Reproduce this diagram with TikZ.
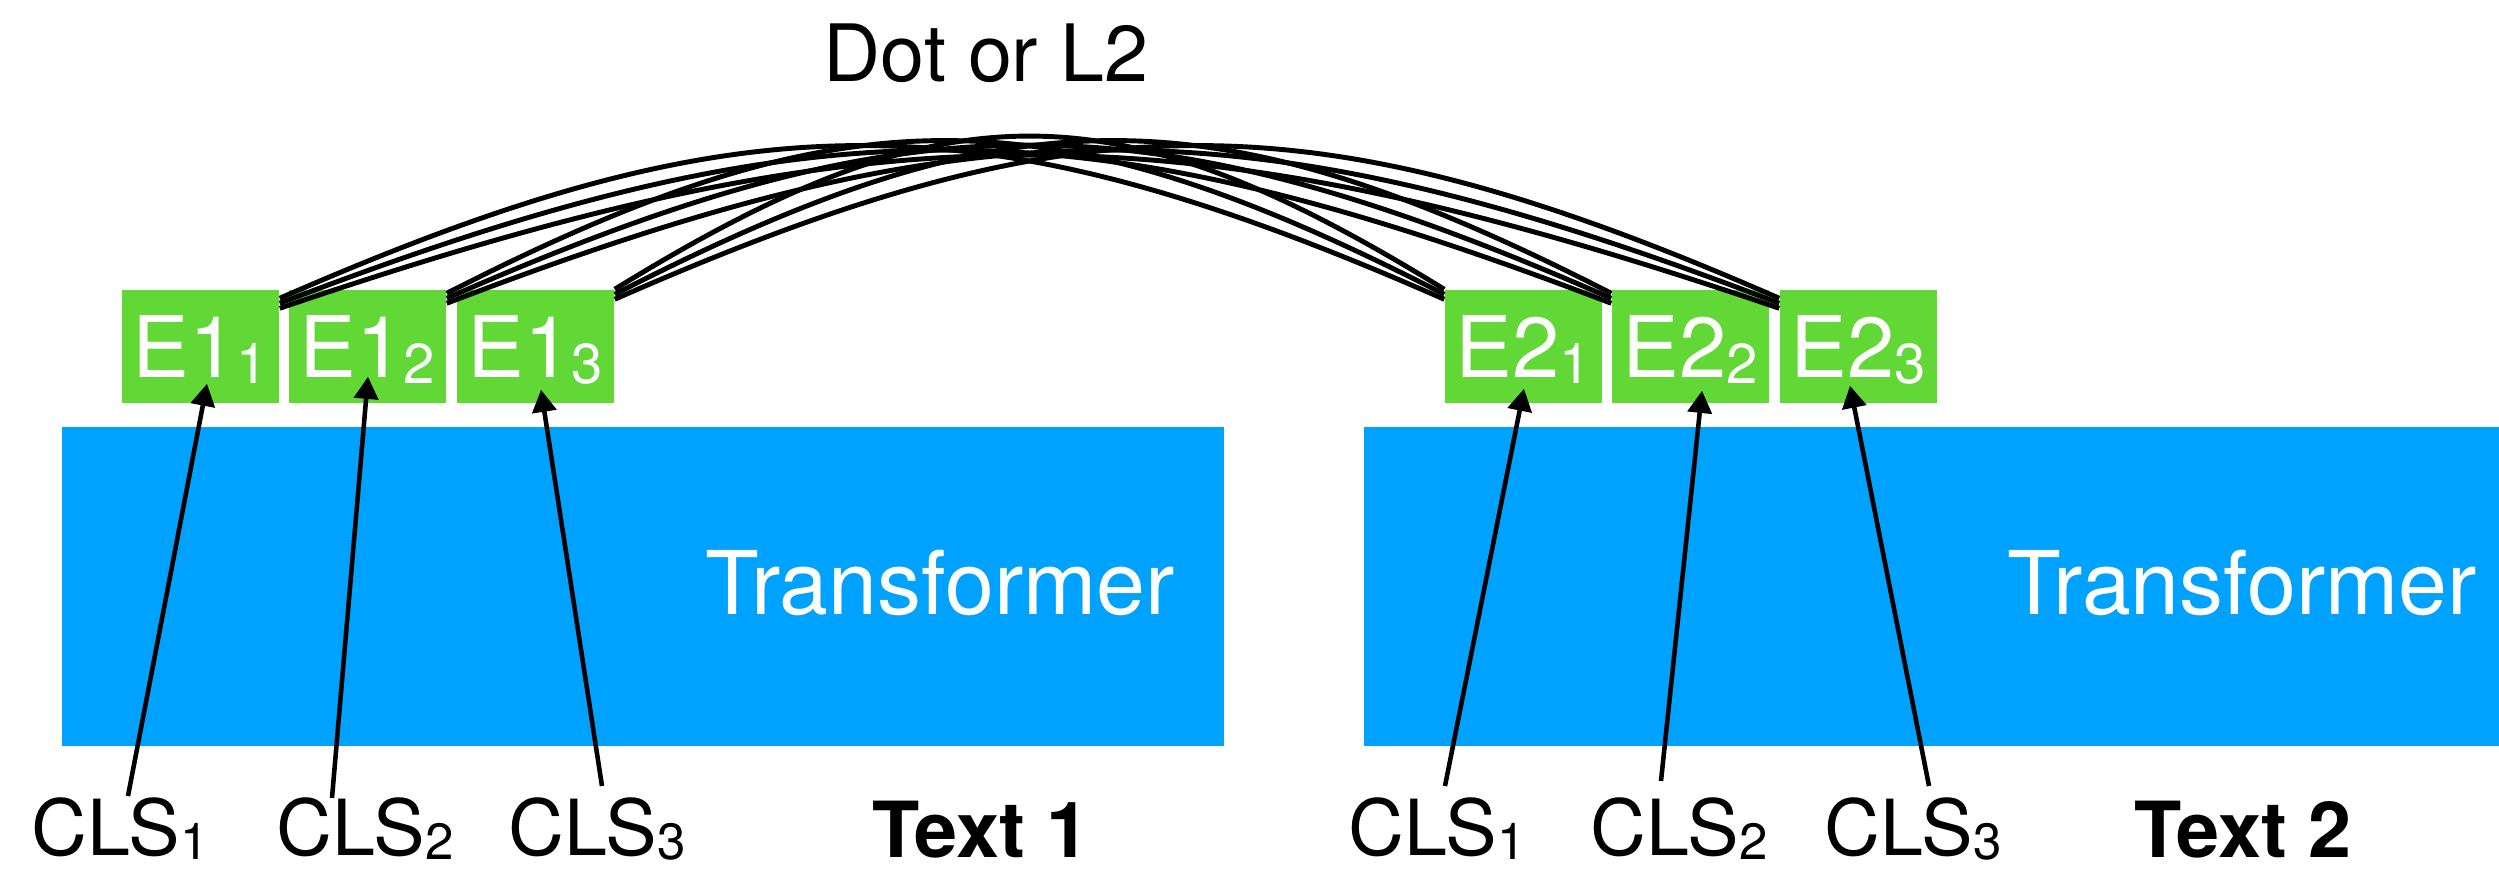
\documentclass[tikz,border=0pt]{standalone}
\usepackage{fontspec}
\setmainfont{TeX Gyre Heros}
\usetikzlibrary{arrows.meta,calc}
\definecolor{tblue}{RGB}{0,162,255}
\definecolor{egreen}{RGB}{97,216,54}
\newcommand\esub[1]{\raisebox{-1.7pt}{\fontsize{16}{16}\selectfont #1}}
\newcommand\csub[1]{\raisebox{-1.4pt}{\fontsize{14.5}{15}\selectfont #1}}
\begin{document}
\begin{tikzpicture}[x=0.01cm,y=-0.01cm,
  tbox/.style={fill=tblue, inner sep=0pt, minimum height=3.19cm},
  tlabel/.style={text=white, inner sep=0pt, font=\fontsize{25}{30}\selectfont},
  ebox/.style={fill=egreen, text=white, inner sep=0pt, minimum width=1.57cm, minimum height=1.13cm,
    font=\fontsize{24.2}{26}\selectfont, text height=17.4pt, text depth=0pt},
  clslabel/.style={inner sep=0pt, anchor=base, font=\fontsize{22}{26}\selectfont},
  textlabel/.style={inner sep=0pt, anchor=base, font=\fontsize{22}{26}\selectfont\bfseries},
  arr/.style={line width=1.3pt, -{Triangle[length=6.3pt,width=6.8pt]}},
  sim/.style={line width=1.4pt, black}
]
\useasboundingbox (0,0) rectangle (2499,869);

% Transformers
\node[tbox, minimum width=11.62cm] (t1) at (643,586.5) {};
\node[tlabel, anchor=base] (t1lab) at (940,614) {Transformer};
\node[tbox, minimum width=11.35cm] (t2) at (1931.5,586.5) {};
\node[tlabel, anchor=base] (t2lab) at (2242,614) {Transformer};

% Embedding boxes
\node[ebox] (e11) at (200.5,346.5) {E1\esub{1}};
\node[ebox] (e12) at (367.5,346.5) {E1\esub{2}};
\node[ebox] (e13) at (535.5,346.5) {E1\esub{3}};
\node[ebox] (e21) at (1523.5,346.5) {E2\esub{1}};
\node[ebox] (e22) at (1690.5,346.5) {E2\esub{2}};
\node[ebox] (e23) at (1858.5,346.5) {E2\esub{3}};

% Title
\node[inner sep=0pt, anchor=base, font=\fontsize{22.5}{26}\selectfont] (title) at (986,81) {Dot or L2};

% CLS labels
\node[clslabel] (cls11) at (120,855) {CLS\csub{1}};
\node[clslabel] (cls12) at (365,855) {CLS\csub{2}};
\node[clslabel] (cls13) at (597,855) {CLS\csub{3}};
\node[clslabel] (cls21) at (1437,855) {CLS\csub{1}};
\node[clslabel] (cls22) at (1679,855) {CLS\csub{2}};
\node[clslabel] (cls23) at (1913,855) {CLS\csub{3}};
\node[textlabel] (txt1) at (981,857) {Text 1};
\node[textlabel] (txt2) at (2243,857) {Text 2};

% Similarity curves (every E1_i to every E2_j)
\foreach \i/\sx/\a in {1/279/9,2/446/4,3/614/0}{
  \foreach \j/\tx/\b in {1/1445/0,2/1612/4,3/1780/9}{
    \pgfmathsetmacro\sy{290+\a+5*(\j-1)}
    \pgfmathsetmacro\ty{290+\b+5*(3-\i)}
    \pgfmathsetmacro\span{\tx-\sx}
    \pgfmathsetmacro\cy{(\sy+\ty)/2-205}
    \coordinate (s\i\j) at ($(e1\i.north east)+(0,{\a+5*(\j-1)})$);
    \coordinate (t\i\j) at ($(e2\j.north west)+(0,{\b+5*(3-\i)})$);
    \draw[sim] (s\i\j) .. controls ({\sx+0.4*\span},\cy) and ({\tx-0.4*\span},\cy) .. (t\i\j);
  }
}

% Arrows
\draw[arr] ($(cls11.base)+(8,-59)$) -- ($(e11.south)+(6.5,-20)$);
\draw[arr] ($(cls12.base)+(-33,-57)$) -- ($(e12.south)+(0.5,-27)$);
\draw[arr] ($(cls13.base)+(5,-69)$) -- ($(e13.south)+(5.5,-14)$);
\draw[arr] ($(cls21.base)+(8,-69)$) -- ($(e21.south)+(0.5,-15)$);
\draw[arr] ($(cls22.base)+(-18,-74)$) -- ($(e22.south)+(11.5,-13)$);
\draw[arr] ($(cls23.base)+(16,-69)$) -- ($(e23.south)+(-8.5,-18)$);
\end{tikzpicture}
\end{document}
